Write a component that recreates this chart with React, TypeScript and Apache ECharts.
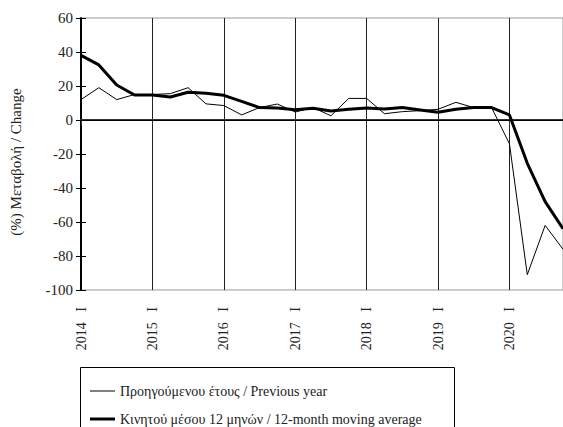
import React, { useEffect, useRef } from "react";
import * as echarts from "echarts";

const years = ["2014", "2015", "2016", "2017", "2018", "2019", "2020"];
const quarters = ["I", "II", "III", "IV"];
const categories = years.flatMap((y) => quarters.map((q) => `${y} ${q}`));

const previousYear = [
  12, 19, 12, 15, 15, 15.5, 19, 9.5, 8.5, 3, 7.3, 9.4, 4.7, 7.3, 2.5, 12.7,
  12.7, 3.7, 4.9, 5.5, 6.3, 10.4, 7.3, 7.3, -14, -91, -62, -76,
];
const movingAverage = [
  38, 32.4, 20.6, 14.7, 14.7, 13.5, 16.3, 15.7, 14.5, 11, 7.3, 7, 6, 6.9, 5.3,
  6.3, 7, 6.5, 7.3, 5.9, 4.5, 6.3, 7.3, 7.3, 3, -25.5, -48, -64,
];

const seriesNames = [
  "Προηγούμενου έτους / Previous year",
  "Κινητού μέσου 12 μηνών / 12-month moving average",
];
const yAxisTitle = "(%) Μεταβολή / Change";

const FONT = "Liberation Serif";

export default function App() {
  const ref = useRef<HTMLDivElement>(null);
  useEffect(() => {
    if (!ref.current) return;
    const chart = echarts.init(ref.current, undefined, { renderer: "svg" });
    const legendText = { color: "#222", fontSize: 14, fontFamily: FONT };
    chart.setOption({
      animation: false,
      textStyle: { fontFamily: FONT },
      grid: {
        left: 81,
        right: -2,
        top: 18,
        bottom: 137,
        show: true,
        borderColor: "#999",
        borderWidth: 1,
        backgroundColor: "transparent",
      },
      xAxis: {
        type: "category",
        data: categories,
        boundaryGap: false,
        axisLine: { lineStyle: { color: "#333", width: 2 } },
        axisTick: { interval: 3, length: 5, lineStyle: { color: "#333" } },
        axisLabel: {
          interval: 3,
          rotate: 90,
          margin: 17,
          color: "#222",
          fontSize: 14,
          fontFamily: FONT,
          formatter: (v: string) => v.replace(" ", "   "),
        },
        splitLine: {
          show: true,
          interval: 3,
          lineStyle: { color: "#222", width: 1 },
        },
      },
      yAxis: [
        {
          type: "value",
          min: -100,
          max: 60,
          interval: 20,
          axisLine: { show: true, lineStyle: { color: "#000", width: 2 } },
          axisTick: { show: true, length: 5, lineStyle: { color: "#000" } },
          axisLabel: {
            color: "#222",
            fontSize: 15,
            margin: 8,
            fontFamily: FONT,
          },
          splitLine: { show: false },
        },
        {
          type: "value",
          min: -100,
          max: 60,
          interval: 20,
          position: "left",
          axisLine: { show: false },
          axisTick: {
            show: true,
            inside: true,
            length: 5,
            lineStyle: { color: "#000" },
          },
          axisLabel: { show: false },
          splitLine: { show: false },
        },
      ],
      legend: [
        {
          orient: "vertical",
          left: 85,
          top: 379,
          icon: "rect",
          itemWidth: 25,
          itemHeight: 1,
          textStyle: legendText,
          data: [{ name: seriesNames[0], itemStyle: { color: "#000" } }],
        },
        {
          orient: "vertical",
          left: 85,
          top: 407,
          icon: "rect",
          itemWidth: 25,
          itemHeight: 3,
          textStyle: legendText,
          data: [{ name: seriesNames[1], itemStyle: { color: "#000" } }],
        },
      ],
      graphic: [
        {
          type: "rect",
          shape: { x: 80.5, y: 367.5, width: 374, height: 80 },
          style: { fill: "none", stroke: "#000", lineWidth: 1 },
          silent: true,
        },
        {
          type: "text",
          x: 16,
          y: 162,
          rotation: Math.PI / 2,
          style: {
            text: yAxisTitle,
            fill: "#222",
            fontSize: 15,
            fontFamily: FONT,
            textAlign: "center",
            textVerticalAlign: "middle",
          },
        },
      ],
      series: [
        {
          name: seriesNames[0],
          type: "line",
          data: previousYear,
          symbol: "none",
          lineStyle: { color: "#000", width: 1 },
          itemStyle: { color: "#000" },
          markLine: {
            silent: true,
            symbol: ["none", "none"],
            label: { show: false },
            lineStyle: { color: "#000", width: 1, type: "solid" },
            data: [{ yAxis: 0 }],
          },
          z: 3,
        },
        {
          name: seriesNames[1],
          type: "line",
          data: movingAverage,
          symbol: "none",
          lineStyle: { color: "#000", width: 3 },
          itemStyle: { color: "#000" },
          z: 4,
        },
      ],
    });
    return () => chart.dispose();
  }, []);
  return (
    <div
      ref={ref}
      style={{
        position: "absolute",
        left: 0,
        top: 0,
        width: 563,
        height: 427,
        overflow: "hidden",
      }}
    />
  );
}
